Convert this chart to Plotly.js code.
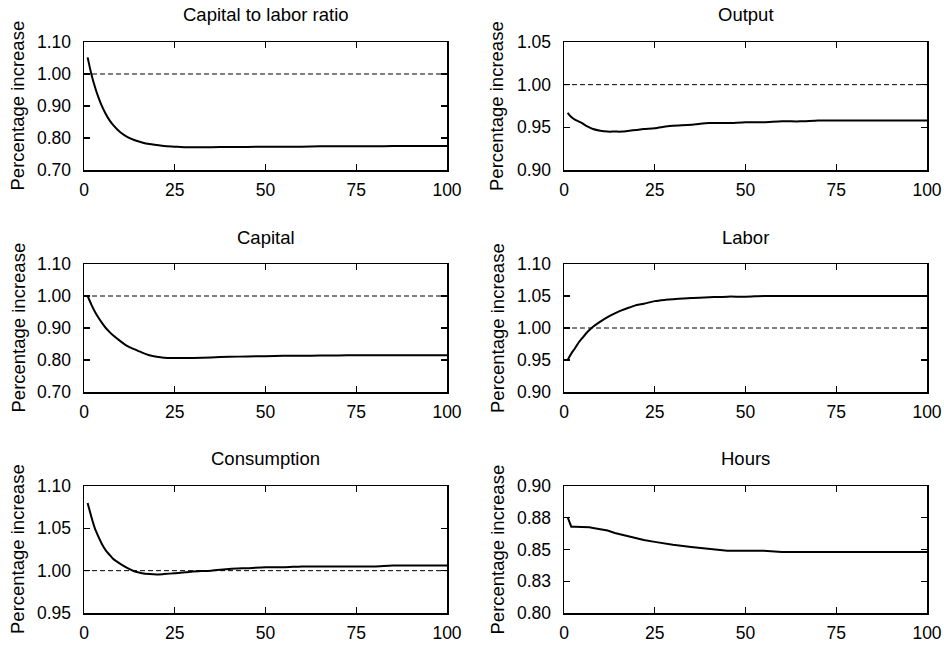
<!DOCTYPE html>
<html>
<head>
<meta charset="utf-8">
<script src="https://cdn.plot.ly/plotly-3.0.1.min.js"></script>
<style>
  html, body { margin: 0; padding: 0; background: #ffffff; }
  #chart { width: 944px; height: 646px; }
</style>
</head>
<body>
<div id="chart"></div>
<script>
// ---- data ----
const periods = [1,2,3,4,5,6,7,8,10,12,14,16,18,20,22,25,28,30,35,40,45,50,55,60,65,70,75,80,85,90,95,100];

const capitalLaborRatio = [1.052,1.001,0.960,0.926,0.898,0.875,0.856,0.841,
  0.818,0.803,0.793,0.786,0.781,0.778,0.775,0.773,0.771,0.771,
  0.771,0.772,0.772,0.773,0.773,0.773,0.774,0.774,0.774,0.774,0.775,0.775,0.775,0.775];

const output = [0.967,0.962,0.959,0.957,0.955,0.952,0.950,0.948,
  0.946,0.945,0.945,0.945,0.946,0.947,0.948,0.949,0.951,0.952,
  0.953,0.955,0.955,0.956,0.956,0.957,0.957,0.958,0.958,0.958,0.958,0.958,0.958,0.958];

const capital = [1.000,0.974,0.951,0.932,0.915,0.900,0.888,0.877,
  0.859,0.843,0.833,0.823,0.815,0.810,0.807,0.806,0.806,0.806,
  0.808,0.810,0.811,0.812,0.813,0.813,0.814,0.814,0.815,0.815,0.815,0.815,0.815,0.815];

const labor = [0.950,0.960,0.968,0.977,0.984,0.991,0.997,1.002,
  1.010,1.017,1.023,1.028,1.032,1.036,1.038,1.042,1.044,1.045,
  1.047,1.048,1.049,1.049,1.050,1.050,1.050,1.050,1.050,1.050,1.050,1.050,1.050,1.050];

const consumption = [1.080,1.064,1.050,1.040,1.031,1.024,1.019,1.014,
  1.008,1.003,0.999,0.997,0.996,0.9955,0.996,0.997,0.998,0.999,
  1.000,1.002,1.003,1.004,1.004,1.005,1.005,1.005,1.005,1.005,1.006,1.006,1.006,1.006];

const hours = [0.8755,0.868,0.868,0.868,0.868,0.868,0.8675,0.867,
  0.866,0.865,0.863,0.8615,0.860,0.8588,0.8575,0.856,0.8545,0.8537,
  0.852,0.8505,0.849,0.849,0.849,0.848,0.848,0.848,0.848,0.848,0.848,0.848,0.848,0.848];

const panelTitles = ["Capital to labor ratio","Output","Capital","Labor","Consumption","Hours"];
const yTitle = "Percentage increase";

const xTickVals = [0,25,50,75,100];
const xTickText = ["0","25","50","75","100"];

const yRanges = [[0.70,1.10],[0.90,1.05],[0.70,1.10],[0.90,1.10],[0.95,1.10],[0.80,0.90]];
const yTickVals = [
  [0.70,0.80,0.90,1.00,1.10],
  [0.90,0.95,1.00,1.05],
  [0.70,0.80,0.90,1.00,1.10],
  [0.90,0.95,1.00,1.05,1.10],
  [0.95,1.00,1.05,1.10],
  [0.80,0.825,0.85,0.875,0.90]
];
const yTickText = [
  ["0.70","0.80","0.90","1.00","1.10"],
  ["0.90","0.95","1.00","1.05"],
  ["0.70","0.80","0.90","1.00","1.10"],
  ["0.90","0.95","1.00","1.05","1.10"],
  ["0.95","1.00","1.05","1.10"],
  ["0.80","0.83","0.85","0.88","0.90"]
];
const baselineValue = 1.00;

// ---- layout geometry (pixels -> paper) ----
const W = 944, H = 646;
const colPx = [[84,447],[564,927]];
const rowPx = [[42,170],[264,392],[486,613]];
const titleYPx = [14, 237, 458];
const yTitleXPx = [17.5, 497];

const series = [capitalLaborRatio, output, capital, labor, consumption, hours];
const smooth = [true,true,true,true,true,false];

const FONT = "Liberation Sans, Arial, Helvetica, sans-serif";
const traces = [];
const layout = {
  width: W, height: H,
  margin: {l:0, r:0, t:0, b:0},
  paper_bgcolor: "#ffffff",
  plot_bgcolor: "#ffffff",
  showlegend: false,
  font: {family: FONT, size: 17, color: "#000000"},
  shapes: [],
  annotations: []
};

for (let i = 0; i < 6; i++) {
  const row = Math.floor(i / 2), col = i % 2;
  const n = i + 1;
  const xa = n === 1 ? "xaxis" : "xaxis" + n;
  const ya = n === 1 ? "yaxis" : "yaxis" + n;
  const xr = n === 1 ? "x" : "x" + n;
  const yr = n === 1 ? "y" : "y" + n;
  const xd = [colPx[col][0] / W, colPx[col][1] / W];
  const yd = [1 - rowPx[row][1] / H, 1 - rowPx[row][0] / H];

  traces.push({
    type: "scatter", mode: "lines",
    x: periods, y: series[i],
    xaxis: xr, yaxis: yr,
    line: smooth[i] ? {color: "#000000", width: 2, shape: "spline", smoothing: 0.7}
                    : {color: "#000000", width: 2},
    hoverinfo: "skip"
  });

  layout[xa] = {
    domain: xd, anchor: yr, range: [0, 100],
    tickmode: "array", tickvals: xTickVals, ticktext: xTickText,
    ticks: "inside", ticklen: 6, tickwidth: 1.2, tickcolor: "#000000",
    showline: true, linecolor: "#000000", linewidth: 1.5, mirror: "ticks",
    showgrid: false, zeroline: false, fixedrange: true,
    ticklabelstandoff: 3,
    tickfont: {family: FONT, size: 17.5, color: "#000000"}
  };
  layout[ya] = {
    domain: yd, anchor: xr, range: yRanges[i],
    tickmode: "array", tickvals: yTickVals[i], ticktext: yTickText[i],
    ticks: "inside", ticklen: 6, tickwidth: 1.2, tickcolor: "#000000",
    showline: true, linecolor: "#000000", linewidth: 1.5, mirror: "ticks",
    showgrid: false, zeroline: false, fixedrange: true,
    ticklabelstandoff: 8,
    tickfont: {family: FONT, size: 17.5, color: "#000000"}
  };

  if (baselineValue >= yRanges[i][0] && baselineValue <= yRanges[i][1]) {
    layout.shapes.push({
      type: "line", xref: xr + " domain", yref: yr,
      x0: 0, x1: 1, y0: baselineValue, y1: baselineValue,
      line: {color: "#000000", width: 1, dash: "5px,3px"},
      layer: "below"
    });
  }

  layout.annotations.push({
    text: panelTitles[i], showarrow: false,
    xref: "paper", yref: "paper",
    x: (xd[0] + xd[1]) / 2, y: 1 - titleYPx[row] / H,
    xanchor: "center", yanchor: "middle",
    font: {family: FONT, size: 18.5, color: "#000000"}
  });
  layout.annotations.push({
    text: yTitle, showarrow: false, textangle: -90,
    xref: "paper", yref: "paper",
    x: yTitleXPx[col] / W, y: (yd[0] + yd[1]) / 2,
    xanchor: "center", yanchor: "middle",
    font: {family: FONT, size: 18.5, color: "#000000"}
  });
}

Plotly.newPlot("chart", traces, layout, {displayModeBar: false, staticPlot: true});
</script>
</body>
</html>
